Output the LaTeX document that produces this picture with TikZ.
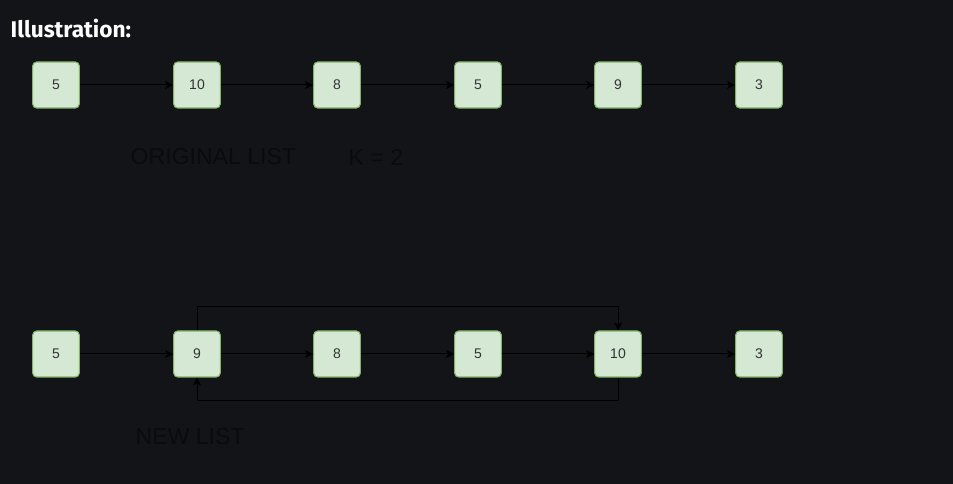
\documentclass[tikz,border=0pt]{standalone}
\usepackage{fontspec}
\setmainfont{Liberation Sans}
\newfontfamily\titlefont{Fira Sans}
\usetikzlibrary{positioning,arrows.meta}
\definecolor{bgdark}{HTML}{131418}
\definecolor{boxfill}{HTML}{D5E8D4}
\definecolor{boxline}{HTML}{82B366}
\definecolor{numtext}{HTML}{333333}
\definecolor{captext}{HTML}{0B0B0D}

\begin{document}
\begin{tikzpicture}[x=0.75pt,y=-0.75pt,
		listnode/.style={draw=boxline,fill=boxfill,rounded corners=3pt,line width=0.8pt,
			minimum width=35pt,minimum height=34.5pt,inner sep=0pt,
			font=\fontsize{10.5pt}{12pt}\selectfont,text=numtext},
		caption/.style={font=\fontsize{17.3pt}{20pt}\selectfont,text=captext},
		link/.style={-{Stealth[length=6pt,width=6pt,inset=1.5pt]},black,line width=0.75pt}]

		\fill[bgdark] (0,0) rectangle (953,484);
		\useasboundingbox (0,0) rectangle (953,484);

		\node[anchor=west,text=white,font=\titlefont\bfseries\fontsize{17pt}{20pt}\selectfont] (title) at (6,29) {Illustration:};

		% original list
		\node[listnode] (o1) at (56,85) {5};
		\node[listnode] (o2) at (197,85) {10};
		\node[listnode] (o3) at (337,85) {8};
		\node[listnode] (o4) at (478,85) {5};
		\node[listnode] (o5) at (618,85) {9};
		\node[listnode] (o6) at (759,85) {3};

		\draw [link] (o1) -- (o2);
		\draw [link] (o2) -- (o3);
		\draw [link] (o3) -- (o4);
		\draw [link] (o4) -- (o5);
		\draw [link] (o5) -- (o6);

		\node[caption,anchor=west] (orig) at (126,157) {ORIGINAL LIST};
		\node[caption,anchor=west] (k) at (344,157) {K = 2};

		% new list
		\node[listnode] (n1) at (56,354) {5};
		\node[listnode] (n2) at (197,354) {9};
		\node[listnode] (n3) at (337,354) {8};
		\node[listnode] (n4) at (478,354) {5};
		\node[listnode] (n5) at (618,354) {10};
		\node[listnode] (n6) at (759,354) {3};

		\draw [link] (n1) -- (n2);
		\draw [link] (n2) -- (n3);
		\draw [link] (n3) -- (n4);
		\draw [link] (n4) -- (n5);
		\draw [link] (n5) -- (n6);

		\coordinate (up) at (0,307);
		\coordinate (down) at (0,401);
		\draw [link] (n2.north) -- (n2.north |- up) -- (n5.north |- up) -- (n5.north);
		\draw [link] (n5.south) -- (n5.south |- down) -- (n2.south |- down) -- (n2.south);

		\node[caption,anchor=west] (new) at (131,437) {NEW LIST};
	\end{tikzpicture}
\end{document}
